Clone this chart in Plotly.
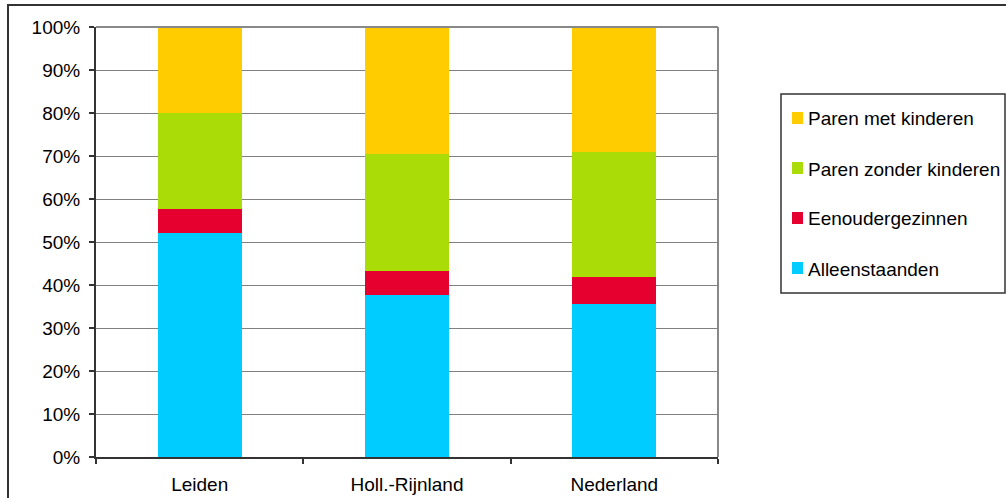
import plotly.graph_objects as go

# Household composition per area (share of households, %)
regions = ["Leiden", "Holl.-Rijnland", "Nederland"]
alleenstaanden = [52.0, 37.6, 35.5]
eenoudergezinnen = [5.6, 5.6, 6.3]
paren_zonder_kinderen = [22.4, 27.2, 29.1]
paren_met_kinderen = [20.0, 29.6, 29.1]

# stacked bottom-to-top
series = [
    ("Alleenstaanden", alleenstaanden, "#00CCFF"),
    ("Eenoudergezinnen", eenoudergezinnen, "#E60030"),
    ("Paren zonder kinderen", paren_zonder_kinderen, "#AADC08"),
    ("Paren met kinderen", paren_met_kinderen, "#FFCC00"),
]

W, H = 1006, 498
FONT = "Liberation Sans, Arial, sans-serif"
FS = 19

fig = go.Figure()
for name, vals, color in series:
    fig.add_trace(go.Bar(
        x=regions, y=vals, name=name,
        marker=dict(color=color, line=dict(width=0)),
        hoverinfo="x+y+name",
    ))

# plot area in pixels
px_l, px_r, px_t, px_b = 96, 718, 27, 457

def pxx(x):
    return x / W

def pxy(y):
    return 1 - y / H

shapes = [
    # right and top frame of the plot area
    dict(type="line", xref="x domain", yref="y domain",
         x0=1, x1=1, y0=0, y1=1, line=dict(color="#888888", width=2)),
    dict(type="line", xref="x domain", yref="y domain",
         x0=0, x1=1, y0=1, y1=1, line=dict(color="#888888", width=2)),
    # legend box
    dict(type="rect", xref="paper", yref="paper",
         x0=pxx(781), x1=pxx(1005), y0=pxy(293), y1=pxy(94),
         line=dict(color="#333333", width=1.5)),
    # chart border
    dict(type="rect", xref="paper", yref="paper",
         x0=pxx(8), x1=pxx(1012), y0=pxy(505), y1=pxy(5),
         line=dict(color="#333333", width=2)),
]
annotations = []

# legend entries, top entry is the top of the stack
legend_top, legend_step = 118, 50
for i, (name, _, color) in enumerate(reversed(series)):
    yc = legend_top + i * legend_step
    shapes.append(dict(
        type="rect", xref="paper", yref="paper",
        x0=pxx(792), x1=pxx(803), y0=pxy(yc + 6), y1=pxy(yc - 6),
        fillcolor=color, line=dict(width=0),
    ))
    annotations.append(dict(
        text=name, xref="paper", yref="paper",
        x=pxx(806), y=pxy(yc + 1), xanchor="left", yanchor="middle",
        showarrow=False, font=dict(family=FONT, size=FS, color="black"),
    ))

fig.update_layout(
    width=W, height=H,
    margin=dict(l=0, r=0, t=0, b=0, autoexpand=False),
    paper_bgcolor="white", plot_bgcolor="white",
    barmode="stack", bargap=0.595,
    font=dict(family=FONT, size=FS, color="black"),
    showlegend=False,
    xaxis=dict(
        domain=[pxx(px_l), pxx(px_r)], automargin=False,
        showline=True, linecolor="#333333", linewidth=2,
        ticks="outside", tickson="boundaries", ticklen=5,
        tickcolor="#333333", tickwidth=1.5,
        ticklabelstandoff=9,
        showgrid=False, zeroline=False,
    ),
    yaxis=dict(
        domain=[pxy(px_b), pxy(px_t)], automargin=False,
        range=[0, 100], dtick=10, ticksuffix="%",
        showline=True, linecolor="#333333", linewidth=2,
        ticks="outside", ticklen=5, tickcolor="#333333", tickwidth=1.5,
        ticklabelstandoff=5,
        showgrid=True, gridcolor="#808080", gridwidth=1.2,
        zeroline=False,
    ),
    shapes=shapes,
    annotations=annotations,
)

fig.write_html("out.html")
